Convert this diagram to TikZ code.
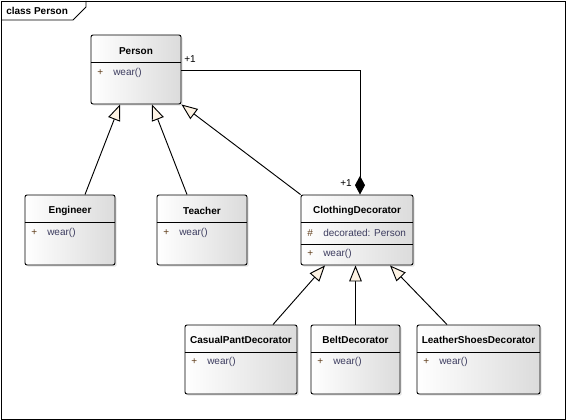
\documentclass[tikz,border=0pt]{standalone}
\usepackage{fontspec}
\setmainfont{Liberation Sans}
\usetikzlibrary{arrows.meta,positioning,shadows}
\definecolor{umlcream}{RGB}{253,243,228}
\definecolor{umlop}{RGB}{60,60,95}
\definecolor{umlvis}{RGB}{95,60,25}

\begin{document}
\begin{tikzpicture}[x=0.75pt,y=-0.75pt,font=\fontsize{7.5}{9}\selectfont,
  cls/.style={draw,line width=0.7pt,rounded corners=1.5pt,inner sep=0pt,
    left color=white,right color=black!14,
    drop shadow={shadow xshift=1.3pt,shadow yshift=-1.3pt,fill=black!22}},
  cname/.style={font=\fontsize{7.5}{9}\selectfont\bfseries,inner sep=0pt},
  vis/.style={text=umlvis,inner sep=0pt,anchor=west},
  op/.style={text=umlop,inner sep=0pt,anchor=west},
  gen/.style={line width=0.7pt,-{Triangle[fill=umlcream,length=12pt,width=9.5pt]}},
  comp/.style={line width=0.7pt,-{Diamond[length=14pt,width=7.5pt]}}
]
\useasboundingbox (0,0) rectangle (566,420);

% frame
\draw[line width=0.7pt] (1,1) rectangle (565,419);
\draw[line width=0.7pt] (1,20) -- (73,20) -- (86,7) -- (86,1);
\node[cname,anchor=west] (title) at (6,11) {class Person};

% classes
\node[cls,minimum width=67.5pt,minimum height=51.75pt] (person) at (136,69.5) {};
\node[cls,minimum width=67.5pt,minimum height=52.5pt] (engineer) at (70,230) {};
\node[cls,minimum width=67.5pt,minimum height=52.5pt] (teacher) at (202,230) {};
\node[cls,minimum width=84pt,minimum height=52.5pt] (clothing) at (357,230) {};
\node[cls,minimum width=84pt,minimum height=51.75pt] (casual) at (241,359.5) {};
\node[cls,minimum width=66.75pt,minimum height=51.75pt] (belt) at (355.5,359.5) {};
\node[cls,minimum width=92.25pt,minimum height=51.75pt] (leather) at (478.5,359.5) {};

% compartments
\draw[line width=0.7pt] (person.west |- 0,62) -- (person.east |- 0,62);
\draw[line width=0.7pt] (engineer.west |- 0,222) -- (engineer.east |- 0,222);
\draw[line width=0.7pt] (teacher.west |- 0,222) -- (teacher.east |- 0,222);
\draw[line width=0.7pt] (clothing.west |- 0,222) -- (clothing.east |- 0,222);
\draw[line width=0.7pt] (clothing.west |- 0,244) -- (clothing.east |- 0,244);
\draw[line width=0.7pt] (casual.west |- 0,352) -- (casual.east |- 0,352);
\draw[line width=0.7pt] (belt.west |- 0,352) -- (belt.east |- 0,352);
\draw[line width=0.7pt] (leather.west |- 0,352) -- (leather.east |- 0,352);

% names and members
\node[cname] (personname) at (136,51) {Person};
\node[vis] (personvis) at (97,73) {+};
\node[op] (personop) at (113,73) {wear()};

\node[cname] (engineername) at (70,211) {Engineer};
\node[vis] (engineervis) at (31,233) {+};
\node[op] (engineerop) at (47,233) {wear()};

\node[cname] (teachername) at (202,211) {Teacher};
\node[vis] (teachervis) at (163,233) {+};
\node[op] (teacherop) at (179,233) {wear()};

\node[cname] (clothingname) at (357,211) {ClothingDecorator};
\node[vis] (clothingvisa) at (307,233) {\#};
\node[op] (clothingattr) at (323,233) {decorated: Person};
\node[vis] (clothingvisb) at (307,254) {+};
\node[op] (clothingop) at (323,254) {wear()};

\node[cname] (casualname) at (241,340) {CasualPantDecorator};
\node[vis] (casualvis) at (191,362) {+};
\node[op] (casualop) at (207,362) {wear()};

\node[cname] (beltname) at (355.5,340) {BeltDecorator};
\node[vis] (beltvis) at (317,362) {+};
\node[op] (beltop) at (333,362) {wear()};

\node[cname] (leathername) at (478.5,340) {LeatherShoesDecorator};
\node[vis] (leathervis) at (423,362) {+};
\node[op] (leatherop) at (439,362) {wear()};

% generalizations
\draw[gen] ([xshift=11.25pt]engineer.north) -- ([xshift=-12pt]person.south);
\draw[gen] ([xshift=-11.25pt]teacher.north) -- ([xshift=12pt]person.south);
\draw[gen] (clothing.north west) -- (person.south east);
\draw[gen] ([xshift=24pt]casual.north) -- ([xshift=-24pt]clothing.south);
\draw[gen] (belt.north) -- (belt.north |- clothing.south);
\draw[gen] ([xshift=-23.6pt]leather.north) -- ([xshift=24.75pt]clothing.south);

% composition
\draw[comp] ([yshift=-1.1pt]person.east) -| ([xshift=2.25pt]clothing.north);
\node (multa) at (190,59) {+1};
\node (multb) at (346,183) {+1};
\end{tikzpicture}
\end{document}
